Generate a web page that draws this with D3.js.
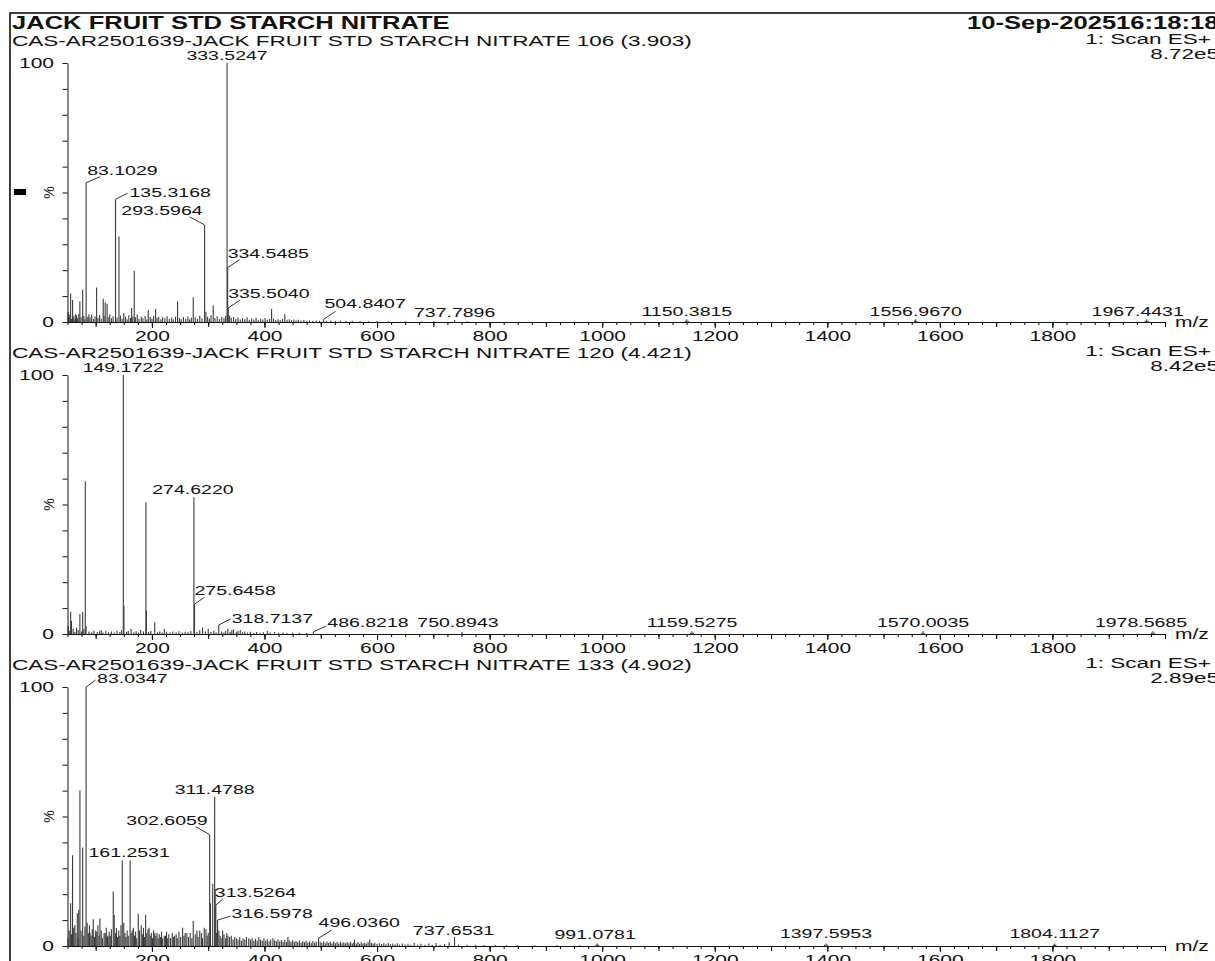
<!DOCTYPE html>
<html>
<head>
<meta charset="utf-8">
<script src="https://cdn.jsdelivr.net/npm/d3@7"></script>
<style>
  body { margin: 0; background: #fff; }
  svg { display: block; }
  text { font-family: "Liberation Sans", Arial, Helvetica, sans-serif; fill: #111; }
</style>
</head>
<body>
<svg id="chart" width="1215" height="961"></svg>
<script>
// ---------- data ----------
var titleText = "JACK FRUIT STD STARCH NITRATE";
var dateText = "10-Sep-202516:18:18";
var scanNames = ["CAS-AR2501639-JACK FRUIT STD STARCH NITRATE 106 (3.903)",
                 "CAS-AR2501639-JACK FRUIT STD STARCH NITRATE 120 (4.421)",
                 "CAS-AR2501639-JACK FRUIT STD STARCH NITRATE 133 (4.902)"];
var scanModes = ["1: Scan ES+", "1: Scan ES+", "1: Scan ES+"];
var scanIntensity = ["8.72e5", "8.42e5", "2.89e5"];
var mzTicks = [200, 400, 600, 800, 1000, 1200, 1400, 1600, 1800];
var pctTicks = [0, 10, 20, 30, 40, 50, 60, 70, 80, 90, 100];

// [m/z, % intensity]
var peaks1 = [[51,4],[55.6,11],[59,8.5],[64,3],[72,8],[77,12.5],[83.1029,53.8],[88,3],[101.7,13.3],
  [113.5,9],[117,7.5],[120.4,7],[135.3168,47.4],[141.4,33],[150,3.5],[164,5.4],[168.6,19.8],
  [193.5,4.5],[206.5,5],[245.6,8],[273.4,9.6],[293.5964,37.5],[296,4],[308.9,6.4],
  [333.5247,100],[334.5485,21],[335.5040,5.4],[412.6,5],[436,3],[504.8407,1.0],[737.7896,0.8],
  [1148,0.5],[1150.3815,1.1],[1153,0.5],[1555,0.5],[1556.9670,1.1],[1559,0.5],[1965,0.5],[1967.4431,1.1],[1970,0.5]];
var noise1 = [[52,1.5],[54,2.8],[57,1.2],[61,2.2],[63,1.0],[66,2.6],[68,1.4],[70,3.1],[74,1.8],[79,2.4],
  [81,1.1],[86,2.0],[90,1.6],[93,2.9],[96,1.2],[99,2.1],[104,1.5],[107,2.7],[110,1.3],[115,2.3],
  [122,1.9],[125,3.0],[128,1.4],[131,2.2],[138,1.7],[144,2.5],[147,1.3],[153,2.0],[156,1.1],[159,2.6],
  [162,1.5],[166,2.1],[171,1.8],[174,2.9],[177,1.2],[181,2.0],[184,1.4],[188,2.3],[191,1.0],[197,1.9],
  [200,1.3],[203,2.4],[209,1.6],[212,2.0],[216,1.1],[219,1.8],[223,1.4],[227,2.2],[231,1.2],[235,1.7],
  [238,1.0],[242,2.0],[249,1.5],[252,1.1],[256,1.9],[260,1.3],[264,2.1],[267,1.0],[270,1.6],[277,1.8],
  [281,1.2],[285,2.4],[289,1.4],[299,2.0],[302,1.3],[305,2.6],[312,1.5],[316,2.2],[320,1.1],[324,1.9],
  [328,1.4],[331,2.3],[338,2.5],[341,1.6],[345,2.0],[349,1.2],[353,1.7],[357,1.0],[361,1.5],[365,1.1],
  [369,1.8],[373,0.9],[377,1.4],[381,1.0],[385,1.6],[389,0.8],[393,1.3],[397,1.0],[401,1.5],[405,0.9],
  [409,1.2],[416,1.3],[420,0.8],[424,1.1],[428,0.7],[432,1.2],[440,0.9],[444,1.1],[448,0.7],[452,1.0],
  [456,0.6],[460,0.9],[465,0.6],[470,0.8],[475,0.5],[480,0.7],[486,0.5],[492,0.6],[498,0.5],[510,0.5],
  [518,0.6],[526,0.4],[535,0.5],[545,0.4],[556,0.5],[570,0.4],[585,0.3],[600,0.4],[620,0.3],[650,0.3],
  [680,0.3],[700,0.3],[760,0.3]];

var peaks2 = [[51.3,3],[55.6,8.6],[57,5],[66,2.5],[72,7.7],[77,8.5],[81.6,59],[83,3],[110,1.5],
  [149.1722,100],[150.2,11],[163,2],[180,1.5],[189.3,50.9],[190.3,9],[205,4.5],[222,2],
  [274.6220,52.8],[275.6458,11.5],[290,2.5],[300,2],[318.7137,3.5],[335,2],[345,1.8],[357,1.5],
  [405,1.2],[486.8218,0.8],[750.8943,0.8],
  [1157,0.5],[1159.5275,1.1],[1162,0.5],[1568,0.5],[1570.0035,1.1],[1572,0.5],[1976,0.5],[1978.5685,1.1],[1981,0.5]];
var noise2 = [[54,1.2],[60,2.0],[63,0.8],[69,1.5],[75,1.0],[79,1.8],[88,1.0],[93,0.7],[97,1.3],[103,0.8],
  [107,1.1],[113,0.6],[118,1.2],[123,0.7],[128,1.0],[133,0.6],[138,1.3],[143,0.8],[146,1.5],[155,0.9],
  [158,1.2],[168,0.7],[172,1.1],[176,0.6],[185,1.0],[194,0.8],[198,1.2],[210,0.7],[214,1.0],[218,0.6],
  [226,0.9],[232,0.6],[237,1.0],[243,0.7],[248,1.1],[254,0.6],[259,0.9],[264,0.7],[269,1.2],[280,0.8],
  [285,1.4],[295,1.0],[305,0.8],[310,1.3],[314,0.7],[324,1.0],[328,0.6],[331,1.2],[339,0.8],[342,1.5],
  [350,0.9],[353,1.2],[361,0.7],[365,1.0],[370,0.6],[375,0.9],[381,0.5],[386,0.8],[392,0.5],[398,0.7],
  [410,0.6],[418,0.8],[425,0.5],[433,0.6],[440,0.4],[450,0.5],[462,0.4],[475,0.4]];

var peaks3 = [[55.6,16.5],[59,35],[63,8],[67.4,12.6],[70,14],[72.1,60],[76.9,38],[83.0347,100],[85,9],
  [90,5],[95.8,10.3],[100,6],[107.6,10.6],[115,5],[122,4],[131.3,21],[133,12],[147.3,33],[150,9],
  [161.2531,33],[165,6],[175.7,12.5],[181,8],[188.8,12],[195,7],[205,5],[222,4],[240,4],[254.5,7],
  [262,5],[273.4,9.7],[285,6],[293,7],[302.6059,43],[304,16.5],[308,24],[311.4788,57.6],[312.3,22],
  [313.5264,15.8],[316.5978,10],[319,6],[325.6,6],[335,4],[350,3],[372,3],[390,3.5],[415,3],
  [441.6,3.5],[496.0360,3],[560,2.5],[737.6531,3.5],
  [989,0.5],[991.0781,1.0],[993,0.5],[1395,0.5],[1397.5953,1.0],[1400,0.5],[1802,0.5],[1804.1127,1.0],[1806,0.5]];
var noise3 = [[51,3],[53,6],[57,4.5],[61,7],[65,5],[69,3.5],[74,6],[79,4],[81,7.5],[87,5],[89,8],[92,4],
  [94,6.5],[98,3.5],[102,5.5],[104,8],[106,4],[110,6],[112,3],[117,5],[119,7],[121,3.5],[124,5.5],[126,4],
  [128,6.5],[135,5],[137,7],[139,3.5],[141,6],[143,4],[145,8],[152,5],[154,3.5],[156,6],[158,4],[163,5],
  [167,7],[169,4],[171,5.5],[173,3],[178,6],[183,4.5],[185,7],[187,3.5],[191,5],[193,6.5],[197,4],[199,5],
  [201,3],[203,6],[207,4],[209,5],[211,3],[213,4.5],[215,3.5],[217,5.5],[219,3],[224,4],[226,5.5],[228,3],
  [230,4.5],[233,3],[236,5],[238,3.5],[243,4.5],[245,3],[248,5.5],[251,3.5],[257,4],[259,5],[265,3.5],
  [268,5],[271,3],[277,4.5],[280,6],[282,3.5],[288,5],[290,3],[296,6.5],[298,4],[300,5],[315,5],[321,4],
  [323,3],[328,4.5],[331,3],[333,5],[338,3.5],[341,4],[344,2.5],[347,3.5],[353,2.5],[356,3.5],[359,2],
  [362,3],[365,2.5],[368,3.5],[375,2.5],[378,3],[381,2],[384,2.8],[387,2],[393,2.5],[396,2],[399,3],
  [402,2],[405,2.6],[408,1.8],[411,2.5],[418,2.2],[421,1.8],[424,2.6],[427,1.7],[430,2.3],[433,1.6],
  [436,2.4],[439,1.5],[444,2.2],[447,1.6],[450,2.2],[453,1.5],[456,2.0],[459,1.4],[462,2.1],[465,1.3],
  [468,1.9],[471,1.4],[474,2.0],[477,1.3],[480,1.8],[483,1.2],[486,1.9],[489,1.3],[492,1.7],[499,1.6],
  [502,1.2],[505,1.8],[508,1.1],[511,1.7],[514,1.2],[517,1.6],[520,1.0],[523,1.7],[526,1.1],[529,1.5],
  [532,1.0],[535,1.6],[538,1.1],[541,1.4],[544,1.0],[547,1.5],[550,1.1],[553,1.6],[556,1.0],[559,1.4],
  [563,1.0],[566,1.5],[569,0.9],[572,1.4],[575,1.0],[578,1.3],[581,0.9],[584,1.5],[587,2.5],[590,1.2],
  [593,0.9],[596,1.3],[600,0.8],[604,1.2],[608,0.8],[612,1.1],[616,0.7],[620,1.2],[624,0.7],[628,1.0],
  [632,0.6],[636,1.1],[640,0.6],[645,1.0],[650,0.6],[655,0.9],[660,0.5],[666,1.2],[672,0.6],[678,0.9],
  [685,0.5],[692,1.0],[698,0.5],[705,1.2],[712,0.5],[720,0.8],[728,1.4],[745,0.6],[760,0.5],[775,0.4],
  [790,0.4],[810,0.3],[830,0.3],[850,0.3],[880,0.3],[920,0.3],[960,0.3]];

// labelled peaks per scan
var labels1 = ["333.5247","83.1029","135.3168","293.5964","334.5485","335.5040","504.8407","737.7896","1150.3815","1556.9670","1967.4431"];
var labels2 = ["149.1722","274.6220","275.6458","318.7137","486.8218","750.8943","1159.5275","1570.0035","1978.5685"];
var labels3 = ["83.0347","311.4788","302.6059","161.2531","313.5264","316.5978","496.0360","737.6531","991.0781","1397.5953","1804.1127"];

// ---------- layout ----------
var SX = 1.5;           // the plot's fonts are stretched horizontally
var panelTops = [63, 375, 687];
var panelH = 259;
var xLeft = 67.5, xRight = 1165;

// label placement relative to the peak top: [dx, dy, anchor, leaderDx, leaderDy]
var place = {
  "333.5247": [0, -3, "middle"], "83.1029": [1, -8, "start", 14, -6], "135.3168": [14, -2, "start", 12, -6],
  "293.5964": [-2, -10, "end", -15, -8], "334.5485": [0, -10, "start", 12, -8], "335.5040": [0, -10, "start", 12, -8],
  "504.8407": [1, -11, "start", 12, -8], "737.7896": [0, -3, "middle"], "1150.3815": [0, -3, "middle"],
  "1556.9670": [0, -3, "middle"], "1967.4431": [-9, -3, "middle"],
  "149.1722": [0, -3, "middle"], "274.6220": [-1, -3, "middle"], "275.6458": [0, -9, "start", 10, -7],
  "318.7137": [13, -2, "start", 12, -6], "486.8218": [14, -5, "start", 13, -6], "750.8943": [-4, -5, "middle"],
  "1159.5275": [0, -4, "middle"], "1570.0035": [0, -4, "middle"], "1978.5685": [-12, -4, "middle"],
  "83.0347": [11, -4, "start", 9.5, -7], "311.4788": [0, -3, "middle"], "302.6059": [-2, -10, "end", -14, -8],
  "161.2531": [-1, -3.5, "middle"], "313.5264": [-1, -8, "start", 7, -6], "316.5978": [14, -2, "start", 13, -4],
  "496.0360": [0, -11, "start", 13, -8], "737.6531": [-1, -2, "middle"], "991.0781": [-2, -4, "middle"],
  "1397.5953": [0, -5, "middle"], "1804.1127": [0, -5, "middle"]
};

var svg = d3.select("#chart");
var x = d3.scaleLinear().domain([50, 2000]).range([xLeft, xRight]);

function stext(g, px, py, str, size, anchor, weight, sx) {
  return g.append("text")
    .attr("transform", "translate(" + px + "," + py + ") scale(" + (sx || SX) + ",1)")
    .attr("text-anchor", anchor || "start")
    .style("font-size", size + "px")
    .style("font-weight", weight || "normal")
    .text(str);
}

// frame + header
svg.append("rect").attr("x", 10).attr("y", 13).attr("width", 1300).attr("height", 1000)
  .attr("fill", "none").attr("stroke", "#000").attr("stroke-width", 1.5);
stext(svg, 12, 29, titleText, 18, "start", "bold", 1.42);
stext(svg, 967, 29, dateText, 18, "start", "bold", 1.42);

function drawPanel(i, peaks, noise, labels) {
  var top = panelTops[i], y0 = top + panelH;
  var y = d3.scaleLinear().domain([0, 100]).range([y0, top]);
  var g = svg.append("g");

  stext(g, 12, top - 17, scanNames[i], 15, "start");
  stext(g, 1211, top - 19, scanModes[i], 15, "end");
  stext(g, 1219, top - 4, scanIntensity[i], 15, "end");

  // spectrum sticks
  var all = noise.concat(peaks);
  g.append("g").selectAll("line").data(all).enter().append("line")
    .attr("x1", function(d) { return x(d[0]); })
    .attr("x2", function(d) { return x(d[0]); })
    .attr("y1", y0)
    .attr("y2", function(d) { return y(d[1]); })
    .attr("stroke", "#3a3a3a")
    .attr("stroke-width", 1.1);

  // x axis: minor, medium, major ticks
  var minor = d3.range(50, 2001, 25);
  var medium = d3.range(100, 2001, 100);
  g.append("g").attr("transform", "translate(0," + y0 + ")")
    .call(d3.axisBottom(x).tickValues(minor).tickSize(3).tickSizeOuter(0).tickFormat(""))
    .call(function(a) { a.select(".domain").remove(); });
  g.append("g").attr("transform", "translate(0," + y0 + ")")
    .call(d3.axisBottom(x).tickValues(medium).tickSize(5).tickSizeOuter(0).tickFormat(""))
    .call(function(a) { a.select(".domain").remove(); });
  var xa = g.append("g").attr("transform", "translate(0," + y0 + ")")
    .call(d3.axisBottom(x).tickValues(mzTicks).tickSize(6).tickSizeOuter(0).tickPadding(3)
      .tickFormat(d3.format("d")));
  xa.selectAll("text").attr("font-family", null).attr("font-size", null)
    .style("font-size", "14px").attr("transform", "scale(" + SX + ",1)");
  xa.selectAll("line, path").attr("stroke", "#111");
  stext(g, 1175, y0 + 5, "m/z", 14, "start");

  // y axis
  var ya = g.append("g").attr("transform", "translate(" + xLeft + ",0)")
    .call(d3.axisLeft(y).tickValues(pctTicks).tickSize(5).tickSizeOuter(0).tickPadding(4)
      .tickFormat(function(d) { return (d === 0 || d === 100) ? d : ""; }));
  ya.selectAll("text").attr("font-family", null).attr("font-size", null)
    .style("font-size", "14px").attr("transform", "scale(" + SX + ",1)");
  ya.selectAll("line, path").attr("stroke", "#111");
  g.append("text").attr("transform", "translate(49," + y(50) + ") rotate(-90)")
    .attr("text-anchor", "middle").attr("dy", "0.35em").style("font-size", "14px").text("%");

  // peak labels with leaders
  labels.forEach(function(lab) {
    var mz = +lab;
    var pk = peaks.reduce(function(a, b) { return Math.abs(b[0] - mz) < Math.abs(a[0] - mz) ? b : a; });
    var px = x(pk[0]), py = y(pk[1]);
    var p = place[lab];
    if (p.length > 3) {
      g.append("line").attr("x1", px).attr("y1", py).attr("x2", px + p[3]).attr("y2", py + p[4])
        .attr("stroke", "#333").attr("stroke-width", 1);
    }
    stext(g, px + p[0], py + p[1], lab, 13, p[2]);
  });
}

drawPanel(0, peaks1, noise1, labels1);
drawPanel(1, peaks2, noise2, labels2);
drawPanel(2, peaks3, noise3, labels3);

// small black marker left of the first scan
svg.append("rect").attr("x", 14).attr("y", 189).attr("width", 12).attr("height", 6).attr("fill", "#000");
</script>
</body>
</html>
